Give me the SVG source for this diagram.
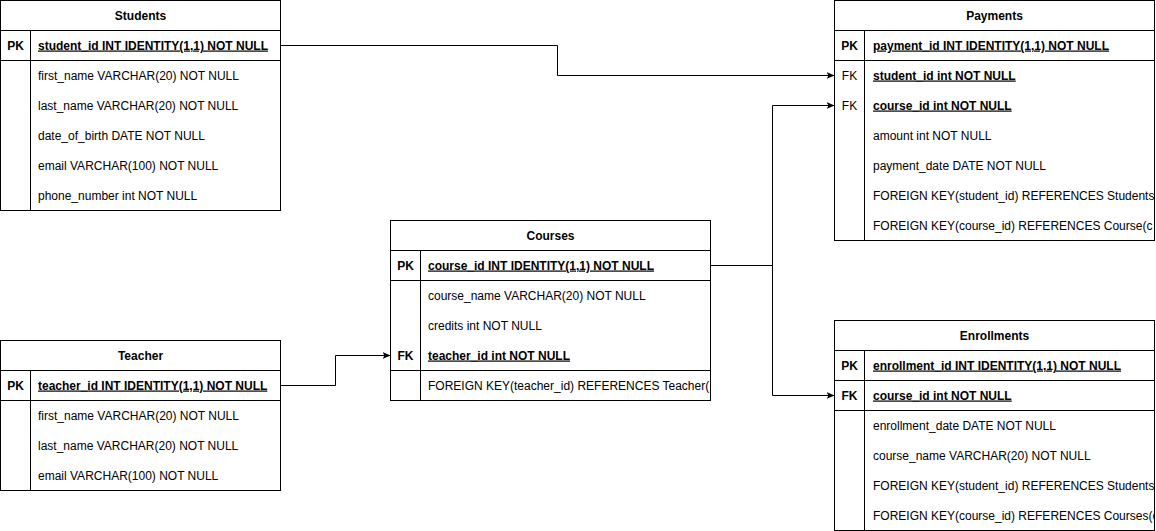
<svg xmlns="http://www.w3.org/2000/svg" width="1156" height="531" viewBox="0 0 1156 531">
<style>
.box{fill:#fff;stroke:#000;stroke-width:1}
.ln{stroke:#000;stroke-width:1;fill:none}
text{font-family:"Liberation Sans",Arial,Helvetica,sans-serif;font-size:12px;fill:#000}
.t{font-weight:bold;text-anchor:middle}
.k{font-weight:bold;text-anchor:middle}
.kn{text-anchor:middle}
.u{font-weight:bold;text-decoration:underline}
.edge{stroke:#000;stroke-width:1;fill:none;marker-end:url(#arr)}
</style>
<defs>
<marker id="arr" markerWidth="9" markerHeight="8" refX="8" refY="3.5" orient="auto" markerUnits="userSpaceOnUse">
<path d="M0,0 L8,3.5 L0,7 L2,3.5 Z" fill="#000"/>
</marker>
<clipPath id="cPay"><rect x="835" y="0" width="319" height="241"/></clipPath>
<clipPath id="cCou"><rect x="391" y="220" width="319" height="181"/></clipPath>
<clipPath id="cEnr"><rect x="835" y="320" width="319" height="211"/></clipPath>
</defs>

<g id="Students">
<rect class="box" x="0.5" y="0.5" width="280" height="210"/>
<line class="ln" x1="0.5" y1="30.5" x2="280.5" y2="30.5"/>
<line class="ln" x1="0.5" y1="60.5" x2="280.5" y2="60.5"/>
<line class="ln" x1="30.5" y1="30.5" x2="30.5" y2="210.5"/>
<text class="t" x="140.5" y="19.5">Students</text>
<text class="k" x="15.5" y="49.5">PK</text>
<text class="u" x="38" y="49.5">student_id INT IDENTITY(1,1) NOT NULL</text>
<text x="38" y="79.5">first_name VARCHAR(20) NOT NULL</text>
<text x="38" y="109.5">last_name VARCHAR(20) NOT NULL</text>
<text x="38" y="139.5">date_of_birth DATE NOT NULL</text>
<text x="38" y="169.5">email VARCHAR(100) NOT NULL</text>
<text x="38" y="199.5">phone_number int NOT NULL</text>
</g>

<g id="Payments">
<rect class="box" x="834.5" y="0.5" width="320" height="240"/>
<line class="ln" x1="834.5" y1="30.5" x2="1154.5" y2="30.5"/>
<line class="ln" x1="834.5" y1="60.5" x2="1154.5" y2="60.5"/>
<line class="ln" x1="864.5" y1="30.5" x2="864.5" y2="240.5"/>
<text class="t" x="994.5" y="19.5">Payments</text>
<text class="k" x="849.5" y="49.5">PK</text>
<text class="kn" x="849.5" y="79.5">FK</text>
<text class="kn" x="849.5" y="109.5">FK</text>
<g clip-path="url(#cPay)">
<text class="u" x="873" y="49.5">payment_id INT IDENTITY(1,1) NOT NULL</text>
<text class="u" x="873" y="79.5">student_id int NOT NULL</text>
<text class="u" x="873" y="109.5">course_id int NOT NULL</text>
<text x="873" y="139.5">amount int NOT NULL</text>
<text x="873" y="169.5">payment_date DATE NOT NULL</text>
<text x="873" y="199.5">FOREIGN KEY(student_id) REFERENCES Students</text>
<text x="873" y="229.5">FOREIGN KEY(course_id) REFERENCES Course(c</text>
</g>
</g>

<g id="Courses">
<rect class="box" x="390.5" y="220.5" width="320" height="180"/>
<line class="ln" x1="390.5" y1="250.5" x2="710.5" y2="250.5"/>
<line class="ln" x1="390.5" y1="280.5" x2="710.5" y2="280.5"/>
<line class="ln" x1="390.5" y1="370.5" x2="710.5" y2="370.5"/>
<line class="ln" x1="420.5" y1="250.5" x2="420.5" y2="400.5"/>
<text class="t" x="550.5" y="239.5">Courses</text>
<text class="k" x="405.5" y="269.5">PK</text>
<text class="k" x="405.5" y="359.5">FK</text>
<g clip-path="url(#cCou)">
<text class="u" x="428" y="269.5">course_id INT IDENTITY(1,1) NOT NULL</text>
<text x="428" y="299.5">course_name VARCHAR(20) NOT NULL</text>
<text x="428" y="329.5">credits int NOT NULL</text>
<text class="u" x="428" y="359.5">teacher_id int NOT NULL</text>
<text x="428" y="389.5">FOREIGN KEY(teacher_id) REFERENCES Teacher(</text>
</g>
</g>

<g id="Teacher">
<rect class="box" x="0.5" y="340.5" width="280" height="150"/>
<line class="ln" x1="0.5" y1="370.5" x2="280.5" y2="370.5"/>
<line class="ln" x1="0.5" y1="400.5" x2="280.5" y2="400.5"/>
<line class="ln" x1="30.5" y1="370.5" x2="30.5" y2="490.5"/>
<text class="t" x="140.5" y="359.5">Teacher</text>
<text class="k" x="15.5" y="389.5">PK</text>
<text class="u" x="38" y="389.5">teacher_id INT IDENTITY(1,1) NOT NULL</text>
<text x="38" y="419.5">first_name VARCHAR(20) NOT NULL</text>
<text x="38" y="449.5">last_name VARCHAR(20) NOT NULL</text>
<text x="38" y="479.5">email VARCHAR(100) NOT NULL</text>
</g>

<g id="Enrollments">
<rect class="box" x="834.5" y="320.5" width="320" height="210"/>
<line class="ln" x1="834.5" y1="350.5" x2="1154.5" y2="350.5"/>
<line class="ln" x1="834.5" y1="380.5" x2="1154.5" y2="380.5"/>
<line class="ln" x1="834.5" y1="410.5" x2="1154.5" y2="410.5"/>
<line class="ln" x1="864.5" y1="350.5" x2="864.5" y2="530.5"/>
<text class="t" x="994.5" y="339.5">Enrollments</text>
<text class="k" x="849.5" y="369.5">PK</text>
<text class="k" x="849.5" y="399.5">FK</text>
<g clip-path="url(#cEnr)">
<text class="u" x="873" y="369.5">enrollment_id INT IDENTITY(1,1) NOT NULL</text>
<text class="u" x="873" y="399.5">course_id int NOT NULL</text>
<text x="873" y="429.5">enrollment_date DATE NOT NULL</text>
<text x="873" y="459.5">course_name VARCHAR(20) NOT NULL</text>
<text x="873" y="489.5">FOREIGN KEY(student_id) REFERENCES Students</text>
<text x="873" y="519.5">FOREIGN KEY(course_id) REFERENCES Courses(c</text>
</g>
</g>

<g id="connectors">
<path class="edge" d="M280.5,45.5 H557.5 V75.5 H834.5"/>
<path class="edge" d="M710.5,265.5 H772.5 V105.5 H834.5"/>
<path class="edge" d="M710.5,265.5 H772.5 V395.5 H834.5"/>
<path class="edge" d="M280.5,385.5 H335.5 V355.5 H390.5"/>
</g>
</svg>
